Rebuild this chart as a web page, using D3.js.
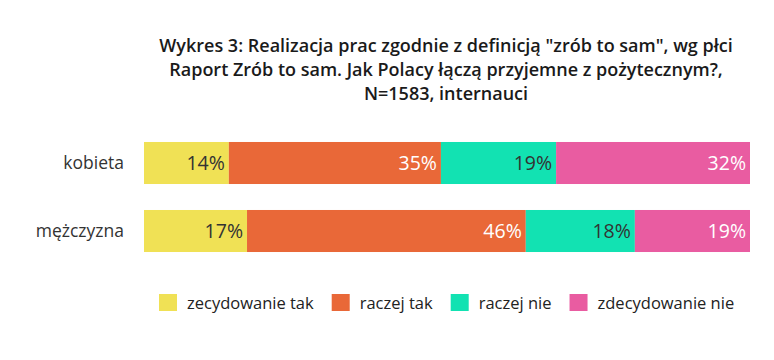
<!DOCTYPE html>
<html><head><meta charset="utf-8">
<script src="https://cdn.jsdelivr.net/npm/d3@7"></script>
<style>body{margin:0;background:#fff}svg{display:block;font-family:"Open Sans",sans-serif}</style>
</head><body><svg id="c" width="774" height="360"></svg>
<script>
const titleLines = ['Wykres 3: Realizacja prac zgodnie z definicją "zrób to sam", wg płci','Raport Zrób to sam. Jak Polacy łączą przyjemne z pożytecznym?,','N=1583, internauci'];
const categories = ["kobieta","mężczyzna"];
const seriesNames = ["zecydowanie tak","raczej tak","raczej nie","zdecydowanie nie"];
const zdecydowanieTak = [14,17];
const raczejTak = [35,46];
const raczejNie = [19,18];
const zdecydowanieNie = [32,19];
const colors = ["#f0e155","#e96838","#12e2b2","#e95ca1"];
const labelColors = ["#333","#fff","#333","#fff"];

const seriesVals = [zdecydowanieTak, raczejTak, raczejNie, zdecydowanieNie];
const rows = categories.map((c,i)=>{const o={cat:c}; seriesNames.forEach((s,j)=>o[s]=seriesVals[j][i]); return o;});
const stack = d3.stack().keys(seriesNames)(rows);

const svg = d3.select("#c");
const x = d3.scaleLinear().domain([0,100]).range([144,750]);
const y = d3.scaleBand().domain(categories).range([129,265]).paddingInner(0.382).paddingOuter(0.191);

svg.append("g").selectAll("text").data(titleLines).join("text")
  .attr("x",446).attr("y",(d,i)=>52+i*24).attr("text-anchor","middle")
  .attr("font-size",18).attr("font-weight",600).attr("fill","#1a1a1a").text(d=>d);

const g = svg.append("g");
stack.forEach((layer,j)=>{
  const lg = g.append("g");
  lg.selectAll("rect").data(layer).join("rect")
    .attr("x",d=>x(d[0])).attr("width",d=>x(d[1])-x(d[0]))
    .attr("y",d=>y(d.data.cat)).attr("height",y.bandwidth()).attr("fill",colors[j]);
  lg.selectAll("text").data(layer).join("text")
    .attr("x",d=>x(d[1])-4).attr("y",d=>y(d.data.cat)+y.bandwidth()/2).attr("dy","0.36em")
    .attr("text-anchor","end").attr("font-size",19.5).attr("fill",labelColors[j])
    .text(d=>(d[1]-d[0])+"%");
});

const yAxis = d3.axisLeft(y).tickSize(0).tickPadding(0);
const ax = svg.append("g").attr("transform","translate(124,0)").call(yAxis);
ax.select(".domain").remove();
ax.selectAll("text").attr("font-size",17.5).attr("fill","#333").attr("font-family","Open Sans").attr("dy","0.34em");

const leg = svg.append("g");
let lx = 159;
seriesNames.forEach((s,j)=>{
  leg.append("rect").attr("x",lx).attr("y",294).attr("width",18).attr("height",17).attr("fill",colors[j]);
  const t = leg.append("text").attr("x",lx+28).attr("y",309).attr("font-size",16.5).attr("fill","#222").text(s);
  lx += 28 + t.node().getComputedTextLength() + 18;
});
</script></body></html>
